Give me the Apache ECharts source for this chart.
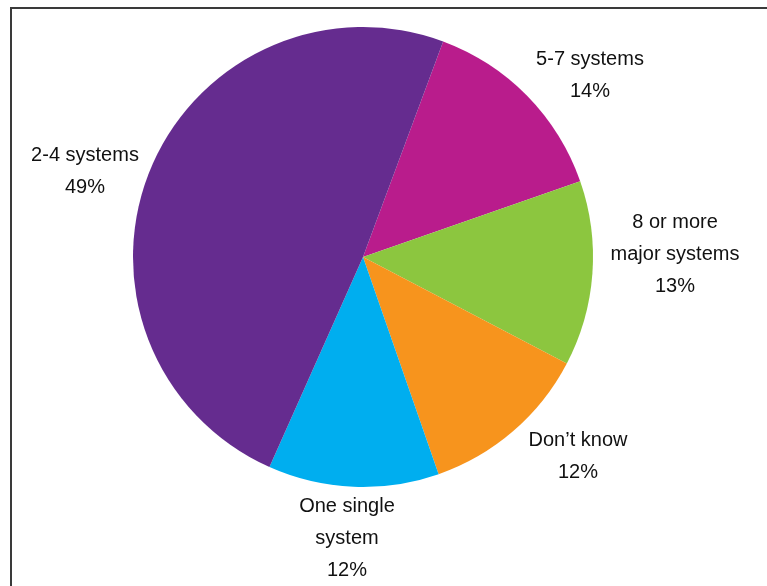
<!DOCTYPE html>
<html>
<head>
<meta charset="utf-8">
<script src="https://cdn.jsdelivr.net/npm/echarts@6/dist/echarts.min.js"></script>
<style>
html,body{margin:0;padding:0;background:#fff;}
#chart{width:767px;height:586px;}
</style>
</head>
<body>
<div id="chart"></div>
<script>
// Data
var categories = ['5-7 systems', '8 or more\nmajor systems', 'Don\u2019t know', 'One single\nsystem', '2-4 systems'];
var values = [14, 13, 12, 12, 49];
var colors = ['#B91C8C', '#8CC63F', '#F7941D', '#00AEEF', '#652C8F'];

// label placement (styling, not data)
var labelCenters = [[590, 75], [675, 254], [578, 456], [347, 538], [85, 171]];

var chart = echarts.init(document.getElementById('chart'), null, {renderer: 'canvas'});
var option = {
  animation: false,
  backgroundColor: '#fff',
  graphic: [{
    type: 'polyline',
    shape: {points: [[11, 586], [11, 8], [767, 8]]},
    style: {stroke: '#3a3a3a', lineWidth: 2, fill: null},
    silent: true
  }],
  series: [{
    type: 'pie',
    center: [363, 257],
    radius: [0, 230],
    startAngle: 69.6,
    clockwise: true,
    avoidLabelOverlap: false,
    data: categories.map(function (c, i) {
      return {name: c, value: values[i], itemStyle: {color: colors[i]}};
    }),
    itemStyle: {borderWidth: 0},
    label: {
      show: true,
      position: 'outside',
      formatter: '{b}\n{c}%',
      color: '#111',
      fontFamily: 'Liberation Sans, Arial, Helvetica, sans-serif',
      fontSize: 20,
      lineHeight: 32,
      align: 'center'
    },
    labelLine: {show: false},
    labelLayout: function (p) {
      var c = labelCenters[p.dataIndex];
      return {x: c[0], y: c[1], align: 'center', verticalAlign: 'middle'};
    },
    emphasis: {disabled: true}
  }]
};
chart.setOption(option);
</script>
</body>
</html>
